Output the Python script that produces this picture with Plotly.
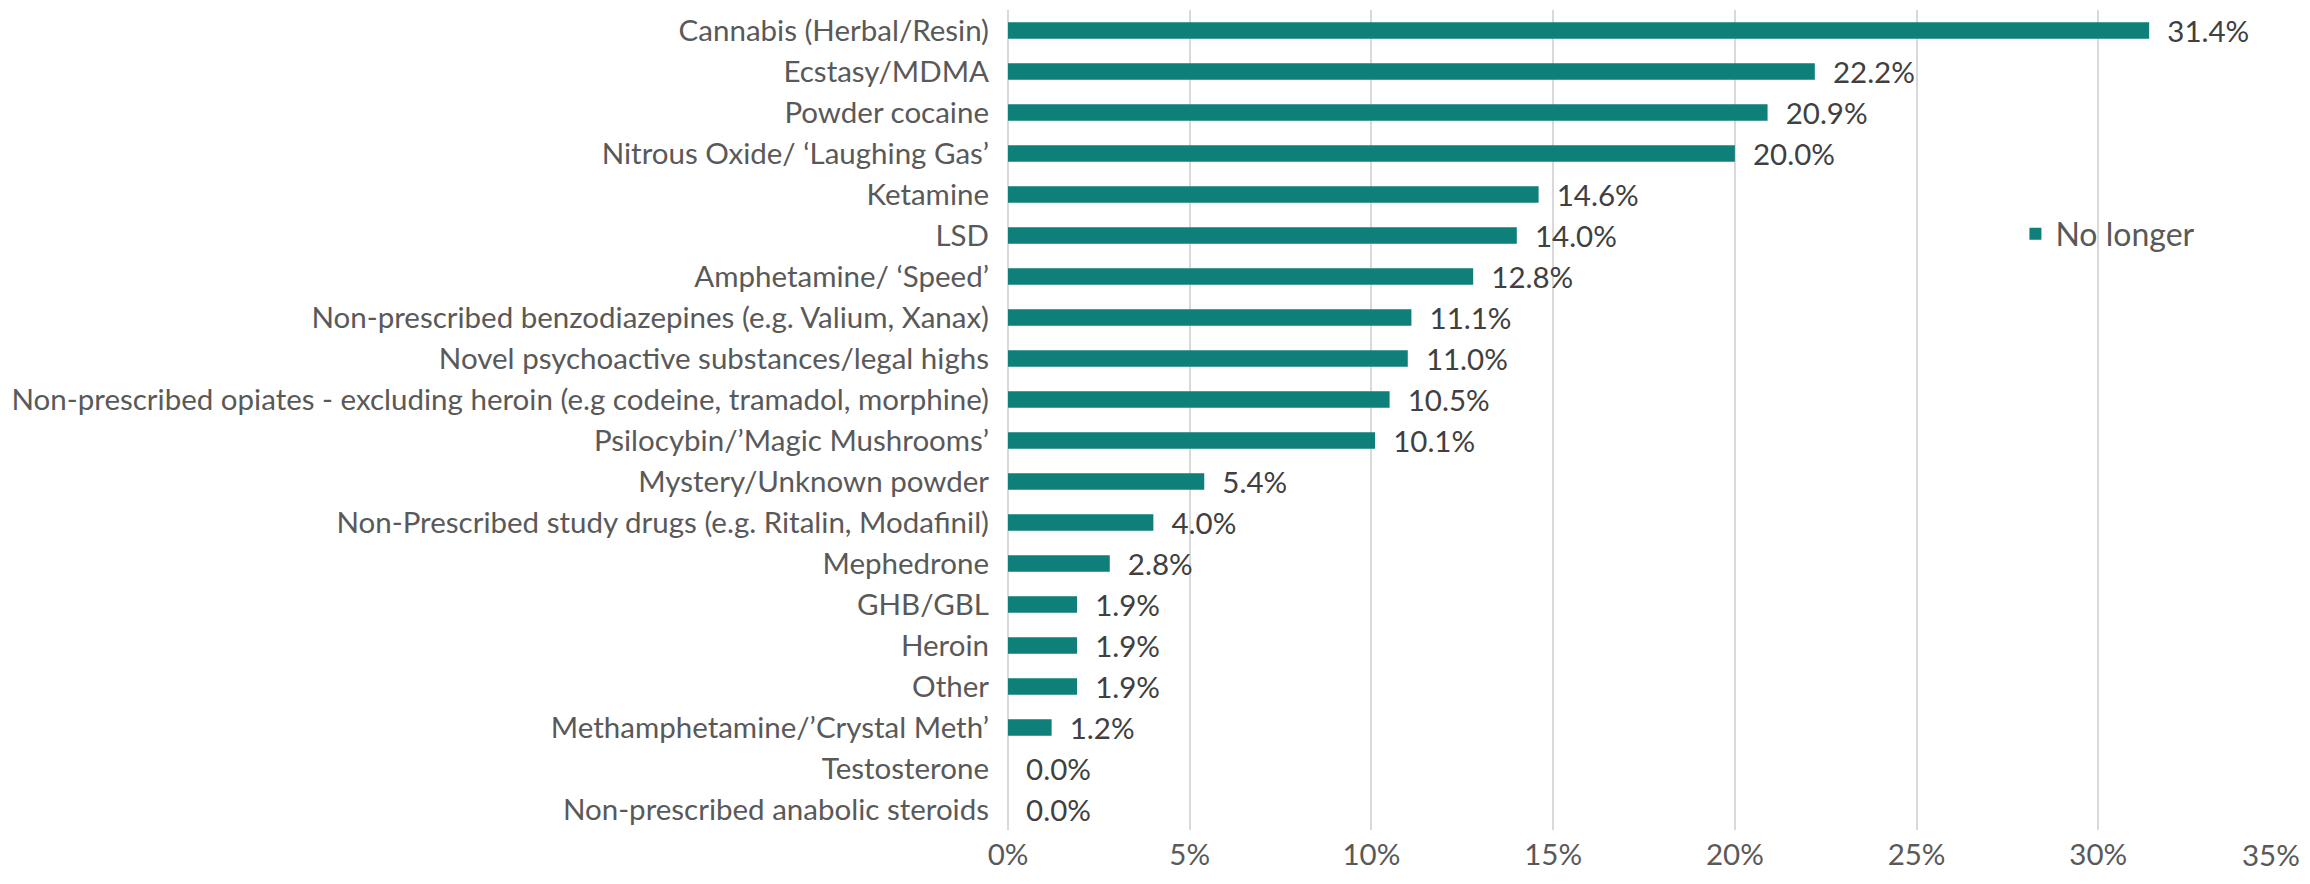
import plotly.graph_objects as go

categories = [
    "Cannabis (Herbal/Resin)",
    "Ecstasy/MDMA",
    "Powder cocaine",
    "Nitrous Oxide/ \u2018Laughing Gas\u2019",
    "Ketamine",
    "LSD",
    "Amphetamine/ \u2018Speed\u2019",
    "Non-prescribed benzodiazepines (e.g. Valium, Xanax)",
    "Novel psychoactive substances/legal highs",
    "Non-prescribed opiates - excluding heroin (e.g codeine, tramadol, morphine)",
    "Psilocybin/\u2019Magic Mushrooms\u2019",
    "Mystery/Unknown powder",
    "Non-Prescribed study drugs (e.g. Ritalin, Modafinil)",
    "Mephedrone",
    "GHB/GBL",
    "Heroin",
    "Other",
    "Methamphetamine/\u2019Crystal Meth\u2019",
    "Testosterone",
    "Non-prescribed anabolic steroids",
]
values = [31.4, 22.2, 20.9, 20.0, 14.6, 14.0, 12.8, 11.1, 11.0, 10.5, 10.1,
          5.4, 4.0, 2.8, 1.9, 1.9, 1.9, 1.2, 0.0, 0.0]
series_name = "No longer"
x_ticks = [0, 5, 10, 15, 20, 25, 30, 35]
x_tick_labels = ["0%", "5%", "10%", "15%", "20%", "25%", "30%", "35%"]

teal = "#0F7F7A"
text_gray = "#595959"
font_family = "Lato"
fsize = 29.5

# last tick label is drawn as an annotation, nudged left to stay inside the canvas
tick_text = list(x_tick_labels)
tick_text[-1] = ""

fig = go.Figure(
    go.Bar(
        y=categories,
        x=values,
        orientation="h",
        name=series_name,
        marker=dict(color=teal, line=dict(width=0)),
        width=0.4,
        text=[f"\u00a0\u00a0{v:.1f}%" for v in values],
        textposition="outside",
        constraintext="none",
        cliponaxis=False,
        textfont=dict(family=font_family, size=fsize, color="#404040"),
        showlegend=True,
    )
)

fig.add_annotation(
    x=x_ticks[-1],
    xref="x",
    y=0,
    yref="paper",
    text=x_tick_labels[-1],
    showarrow=False,
    xanchor="center",
    yanchor="middle",
    xshift=-9,
    yshift=-24.5,
    font=dict(family=font_family, size=fsize, color=text_gray),
)

# page body has an 8px default margin, so the figure is sized to fit the window
fig.update_layout(
    width=2294,
    height=868,
    margin=dict(l=1000, r=22, t=2, b=46),
    paper_bgcolor="white",
    plot_bgcolor="white",
    font=dict(family=font_family, color=text_gray, size=fsize),
    showlegend=True,
    legend=dict(
        x=0.792,
        y=0.727,
        xanchor="left",
        yanchor="middle",
        font=dict(family=font_family, size=32, color=text_gray),
        bgcolor="rgba(0,0,0,0)",
        itemwidth=30,
    ),
    xaxis=dict(
        range=[0, 35],
        tickvals=x_ticks,
        ticktext=tick_text,
        showgrid=True,
        gridcolor="#D9D9D9",
        gridwidth=1.5,
        zeroline=True,
        zerolinecolor="#D9D9D9",
        zerolinewidth=1.5,
        showline=False,
        automargin=False,
        ticklabeloverflow="allow",
        tickfont=dict(family=font_family, size=fsize, color=text_gray),
        ticklabelstandoff=4,
    ),
    yaxis=dict(
        categoryorder="array",
        categoryarray=categories[::-1],
        autorange=False,
        range=[-0.5, len(categories) - 0.5],
        showgrid=False,
        zeroline=False,
        showline=False,
        automargin=False,
        tickfont=dict(family=font_family, size=fsize, color=text_gray),
        ticklabelstandoff=18,
    ),
    bargap=0.6,
)

fig.write_html("out.html")
